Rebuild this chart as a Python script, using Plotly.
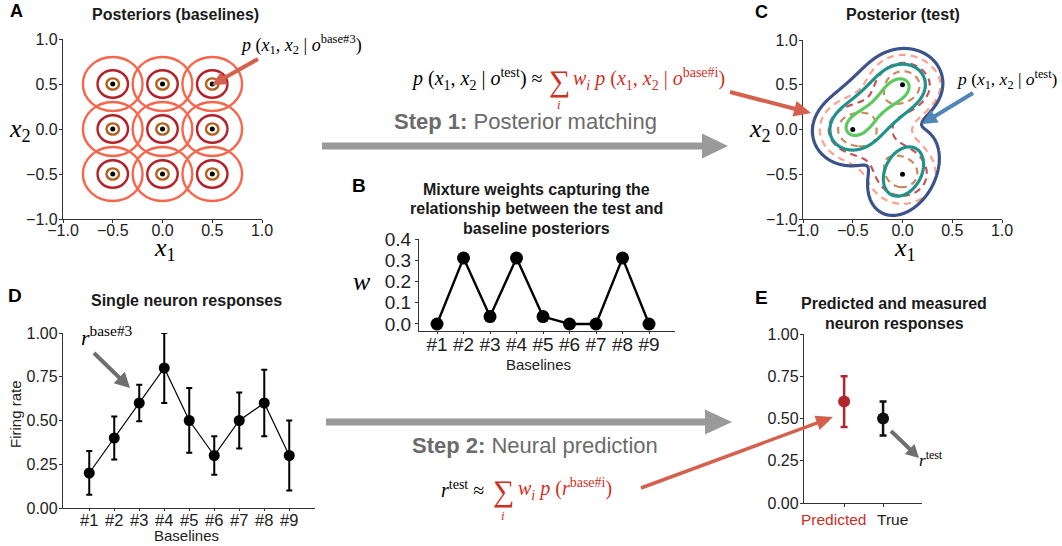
import numpy as np
import plotly.graph_objects as go

W, H = 1062, 546
def PX(x): return x / W
def PY(y): return 1 - y / H

SANS = "Liberation Sans, Arial, sans-serif"
SERIF = "Liberation Serif, Times New Roman, serif"

# ---------------- data ----------------
baseline_labels = ['#1', '#2', '#3', '#4', '#5', '#6', '#7', '#8', '#9']
baseline_x = [-0.5, 0.0, 0.5, -0.5, 0.0, 0.5, -0.5, 0.0, 0.5]
baseline_y = [0.5, 0.5, 0.5, 0.0, 0.0, 0.0, -0.5, -0.5, -0.5]
ring_radii = [0.30, 0.153, 0.063]
ring_colors = ['#f7664b', '#b52029', '#b3601c']

mixture_weights = [0.0, 0.31, 0.035, 0.31, 0.035, 0.0, 0.0, 0.31, 0.0]
mixture_sigma = 0.25
mixture_levels = [0.33, 0.50, 0.675]
mixture_colors = ['#fda08c', '#c4525a', '#c88b5f']

# test posterior: ridge between two baselines (with end bumps) + lower blob
test_ridge_ends_x = [-0.5, 0.0]
test_ridge_ends_y = [0.0, 0.5]
test_ridge_extension = 0.10
test_ridge_sigma = 0.15
test_end_bump = 0.30
test_blob_mean = [0.01, -0.47]
test_blob_sd = [0.136, 0.185]
test_blob_rho = 0.3
test_blob_peak = 0.87
test_levels = [0.026, 0.288, 0.90]
test_colors = ['#3b528b', '#21918c', '#5ec962']

firing_rate = [0.20, 0.40, 0.60, 0.80, 0.50, 0.30, 0.50, 0.60, 0.30]
firing_err = [0.125, 0.123, 0.105, 0.20, 0.185, 0.11, 0.16, 0.19, 0.20]

response_labels = ['Predicted', 'True']
response_values = [0.60, 0.50]
response_err = [0.15, 0.10]
response_colors = ['#b3262c', '#111111']

# ---------------- density fields for panel C ----------------
g = np.linspace(-1, 1, 281)
GX, GY = np.meshgrid(g, g)

mix = np.zeros_like(GX)
for wi, cx, cy in zip(mixture_weights, baseline_x, baseline_y):
    mix += wi * np.exp(-((GX - cx) ** 2 + (GY - cy) ** 2) / (2 * mixture_sigma ** 2)) / (2 * np.pi * mixture_sigma ** 2)

ex0, ex1 = test_ridge_ends_x
ey0, ey1 = test_ridge_ends_y
seg_len = np.hypot(ex1 - ex0, ey1 - ey0)
ux_, uy_ = (ex1 - ex0) / seg_len, (ey1 - ey0) / seg_len
sig = test_ridge_sigma
ridge = np.zeros_like(GX)
for t in np.linspace(-test_ridge_extension, seg_len + test_ridge_extension, 101):
    px_, py_ = ex0 + ux_ * t, ey0 + uy_ * t
    ridge += np.exp(-((GX - px_) ** 2 + (GY - py_) ** 2) / (2 * sig ** 2))
ridge /= ridge.max()
for ex, ey in zip(test_ridge_ends_x, test_ridge_ends_y):
    ridge += test_end_bump * np.exp(-((GX - ex) ** 2 + (GY - ey) ** 2) / (2 * sig ** 2))

dx = (GX - test_blob_mean[0]) / test_blob_sd[0]
dy = (GY - test_blob_mean[1]) / test_blob_sd[1]
r = test_blob_rho
blob = np.exp(-(dx ** 2 - 2 * r * dx * dy + dy ** 2) / (2 * (1 - r ** 2)))
true_post = ridge + test_blob_peak * blob

fig = go.Figure()

# ---------------- Panel A ----------------
fig.add_trace(go.Scatter(x=baseline_x, y=baseline_y, mode='markers',
                         marker=dict(color='black', size=5), xaxis='x', yaxis='y',
                         hoverinfo='skip', showlegend=False))
shapes = []
for cx, cy in zip(baseline_x, baseline_y):
    for rad, col in zip(ring_radii, ring_colors):
        shapes.append(dict(type='circle', xref='x', yref='y', x0=cx - rad, x1=cx + rad,
                           y0=cy - rad, y1=cy + rad, line=dict(color=col, width=2.4)))

# ---------------- Panel B ----------------
fig.add_trace(go.Scatter(x=baseline_labels, y=mixture_weights, mode='lines+markers',
                         line=dict(color='black', width=2.4), marker=dict(color='black', size=13),
                         xaxis='x2', yaxis='y2', cliponaxis=False, hoverinfo='skip', showlegend=False))

# ---------------- Panel C ----------------
for lev, col in zip(mixture_levels, mixture_colors):
    fig.add_trace(go.Contour(x=g, y=g, z=mix, autocontour=False,
                             contours=dict(start=lev, end=lev, size=1, coloring='none'),
                             line=dict(color=col, width=2.2, dash='7px,5px'),
                             showscale=False, hoverinfo='skip', xaxis='x3', yaxis='y3'))
for lev, col in zip(test_levels, test_colors):
    fig.add_trace(go.Contour(x=g, y=g, z=true_post, autocontour=False,
                             contours=dict(start=lev, end=lev, size=1, coloring='none'),
                             line=dict(color=col, width=3.2),
                             showscale=False, hoverinfo='skip', xaxis='x3', yaxis='y3'))
sel_x = [x for x, wi in zip(baseline_x, mixture_weights) if wi > 0.1]
sel_y = [y for y, wi in zip(baseline_y, mixture_weights) if wi > 0.1]
fig.add_trace(go.Scatter(x=sel_x, y=sel_y, mode='markers', marker=dict(color='black', size=5),
                         xaxis='x3', yaxis='y3', hoverinfo='skip', showlegend=False))

# ---------------- Panel D ----------------
fig.add_trace(go.Scatter(x=baseline_labels, y=firing_rate, mode='lines+markers',
                         line=dict(color='black', width=1.2), marker=dict(color='black', size=11),
                         error_y=dict(type='data', array=firing_err, color='black', thickness=2, width=3),
                         xaxis='x4', yaxis='y4', cliponaxis=False, hoverinfo='skip', showlegend=False))

# ---------------- Panel E ----------------
for lab, val, err, col in zip(response_labels, response_values, response_err, response_colors):
    fig.add_trace(go.Scatter(x=[lab], y=[val], mode='markers', marker=dict(color=col, size=12),
                             error_y=dict(type='data', array=[err], color=col, thickness=2.5, width=3.5),
                             xaxis='x5', yaxis='y5', cliponaxis=False, hoverinfo='skip', showlegend=False))

# ---------------- arrows ----------------
def arrow(x0, y0, x1, y1, color, width, hl, hw):
    ddx, ddy = x1 - x0, y1 - y0
    L = (ddx ** 2 + ddy ** 2) ** 0.5
    ux, uy = ddx / L, ddy / L
    bx, by = x1 - ux * hl, y1 - uy * hl
    nx, ny = -uy, ux
    out = [dict(type='line', xref='paper', yref='paper',
                x0=PX(x0), y0=PY(y0), x1=PX(bx + ux), y1=PY(by + uy),
                line=dict(color=color, width=width))]
    p = 'M {} {} L {} {} L {} {} Z'.format(PX(x1), PY(y1), PX(bx + nx * hw), PY(by + ny * hw),
                                           PX(bx - nx * hw), PY(by - ny * hw))
    out.append(dict(type='path', xref='paper', yref='paper', path=p, fillcolor=color,
                    line=dict(color=color, width=0)))
    return out

RED = '#d4604d'
GRAY = '#9a9a9a'
DGRAY = '#6f6f6f'
shapes += arrow(258, 59, 212, 85, RED, 4, 14, 7)
shapes += arrow(322, 146, 728, 146, GRAY, 7, 26, 12.5)
shapes += arrow(730, 92, 811, 113, RED, 4, 17, 8)
shapes += arrow(973, 93, 922, 124, '#5087b5', 4, 15, 7.5)
shapes += arrow(94, 353, 130, 388, DGRAY, 4, 15, 8)
shapes += arrow(326, 422, 732, 422, GRAY, 7, 27, 12.5)
shapes += arrow(641, 488, 833, 417, RED, 3.5, 17, 7.5)
shapes += arrow(891, 431, 919, 458, DGRAY, 4, 13, 7)

# ---------------- annotations ----------------
ann = []
def text(x, y, s, size=16, color='#1a1a1a', family=SANS, xanchor='center', angle=0):
    ann.append(dict(x=PX(x), y=PY(y), xref='paper', yref='paper', text=s, showarrow=False,
                    xanchor=xanchor, yanchor='middle', textangle=angle,
                    font=dict(family=family, size=size, color=color)))

# panel letters
text(16, 11, '<b>A</b>', 18, 'black')
text(359, 185, '<b>B</b>', 19, 'black')
text(761, 12, '<b>C</b>', 18, 'black')
text(15, 295, '<b>D</b>', 19, 'black')
text(761, 297, '<b>E</b>', 19, 'black')
# titles
text(175, 14, '<b>Posteriors (baselines)</b>', 16)
text(903, 14, '<b>Posterior (test)</b>', 16)
text(536, 189, '<b>Mixture weights capturing the</b>', 16)
text(536, 209, '<b>relationship between the test and</b>', 16)
text(536, 228, '<b>baseline posteriors</b>', 16)
text(186, 300, '<b>Single neuron responses</b>', 16)
text(894, 303, '<b>Predicted and measured</b>', 16)
text(894, 323, '<b>neuron responses</b>', 16)
# axis labels
for (xa, ya, xb, yb) in [(20, 130, 165, 249), (760, 130, 905, 249)]:
    text(xa, ya, '<i>x</i><sub>2</sub>', 26, 'black', SERIF)
    text(xb, yb, '<i>x</i><sub>1</sub>', 26, 'black', SERIF)
text(362, 281, '<i>w</i>', 26, 'black', SERIF)
text(538, 364, 'Baselines', 15, '#222')
text(186, 535, 'Baselines', 15, '#222')
text(15, 414, 'Firing rate', 15, '#222', angle=-90)
# panel E category labels
text(833, 519, response_labels[0], 15.5, '#c8302a')
text(892, 519, response_labels[1], 15.5, '#222')
# step labels
text(525, 121, '<b>Step 1:</b> Posterior matching', 22, '#6b6b6b')
text(535, 445, '<b>Step 2:</b> Neural prediction', 22, '#6b6b6b')
# formulas
FR = '#d0301f'
text(545, 79, '<i>p</i> (<i>x</i><sub>1</sub>, <i>x</i><sub>2</sub> | <i>o</i><sup>test</sup>) ≈', 20, 'black', SERIF, 'right')
text(559, 81, '∑', 30, FR, SERIF)
text(559, 105, '<i>i</i>', 13, FR, SERIF)
text(571, 79, '<i>w<sub>i</sub></i> <i>p</i> (<i>x</i><sub>1</sub>, <i>x</i><sub>2</sub> | <i>o</i><sup>base#i</sup>)', 20, FR, SERIF, 'left')
text(486, 489, '<i>r</i><sup>test</sup> ≈', 20, 'black', SERIF, 'right')
text(503, 491, '∑', 30, FR, SERIF)
text(503, 515, '<i>i</i>', 13, FR, SERIF)
text(516, 489, '<i>w<sub>i</sub></i> <i>p</i> (<i>r</i><sup>base#i</sup>)', 20, FR, SERIF, 'left')
# pointer labels
text(301, 44, '<i>p</i> (<i>x</i><sub>1</sub>, <i>x</i><sub>2</sub> | <i>o</i><sup>base#3</sup>)', 18, 'black', SERIF)
text(1060, 79, '<i>p</i> (<i>x</i><sub>1</sub>, <i>x</i><sub>2</sub> | <i>o</i><sup>test</sup>)', 17.5, 'black', SERIF, 'right')
text(107, 336, '<i>r</i><sup>base#3</sup>', 22, 'black', SERIF)
text(931, 459, '<i>r</i><sup>test</sup>', 17, 'black', SERIF)

# ---------------- axes ----------------
def ax(**kw):
    d = dict(showline=True, linecolor='#333', linewidth=1.3, ticks='outside', ticklen=3,
             tickcolor='#333', tickwidth=1.2, showgrid=False, zeroline=False, fixedrange=True,
             automargin=False, tickangle=0,
             tickfont=dict(family=SANS, size=16, color='#222'))
    d.update(kw)
    return d

pos_ticks = [-1.0, -0.5, 0.0, 0.5, 1.0]
layout_axes = dict(
    xaxis=ax(domain=[PX(63), PX(262)], range=[-1, 1], tickvals=pos_ticks, tickformat='.1f',
             anchor='y', ticklabelstandoff=-6),
    yaxis=ax(domain=[PY(219), PY(39)], range=[-1, 1], tickvals=pos_ticks, tickformat='.1f',
             anchor='x', ticklabelstandoff=-2),
    xaxis2=ax(domain=[PX(419), PX(675)], range=[-0.68, 8.98], type='category', anchor='y2', ticklen=2,
              ticklabelstandoff=-6, tickfont=dict(family=SANS, size=19, color='#222')),
    yaxis2=ax(domain=[PY(331), PY(239)], range=[-0.033, 0.4], tickvals=[0, 0.1, 0.2, 0.3, 0.4],
              tickformat='.1f', anchor='x2', tickfont=dict(family=SANS, size=19, color='#222')),
    xaxis3=ax(domain=[PX(803), PX(1002)], range=[-1, 1], tickvals=pos_ticks, tickformat='.1f',
              anchor='y3', ticklabelstandoff=-6),
    yaxis3=ax(domain=[PY(219), PY(40)], range=[-1, 1], tickvals=pos_ticks, tickformat='.1f',
              anchor='x3', ticklabelstandoff=-2),
    xaxis4=ax(domain=[PX(63), PX(315)], range=[-1.05, 9.03], type='category', anchor='y4', ticklen=2,
              ticklabelstandoff=-5, tickfont=dict(family=SANS, size=16.5, color='#222')),
    yaxis4=ax(domain=[PY(508), PY(333)], range=[0, 1], tickvals=[0, 0.25, 0.5, 0.75, 1.0],
              tickformat='.2f', anchor='x4', ticklabelstandoff=-2),
    xaxis5=ax(domain=[PX(804), PX(922)], range=[-1.03, 2.0], type='category', anchor='y5',
              tickvals=response_labels, showticklabels=False),
    yaxis5=ax(domain=[PY(503), PY(334)], range=[0, 1], tickvals=[0, 0.25, 0.5, 0.75, 1.0],
              tickformat='.2f', anchor='x5', ticklabelstandoff=-2),
)

fig.update_layout(width=W, height=H, margin=dict(l=0, r=0, t=0, b=0, autoexpand=False),
                  paper_bgcolor='white', plot_bgcolor='white', showlegend=False,
                  shapes=shapes, annotations=ann, **layout_axes)

fig.write_html("out.html", config={'displayModeBar': False},
               post_script="document.body.style.margin='0px';")
